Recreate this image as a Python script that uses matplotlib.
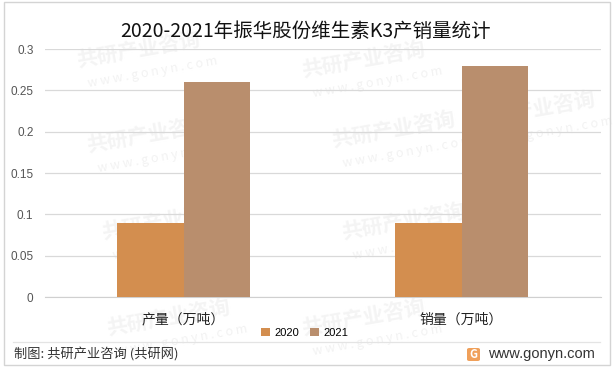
import numpy as np
import matplotlib
matplotlib.use('Agg')
import matplotlib.pyplot as plt
from matplotlib.patches import Rectangle, FancyBboxPatch

plt.rcParams['font.family'] = ['Noto Sans CJK SC', 'DejaVu Sans']

categories = ['产量（万吨）', '销量（万吨）']
values_2020 = [0.09, 0.09]
values_2021 = [0.26, 0.28]
yticks = [0, 0.05, 0.1, 0.15, 0.2, 0.25, 0.3]
yticklabels = ['0', '0.05', '0.1', '0.15', '0.2', '0.25', '0.3']
title = '2020-2021年振华股份维生素K3产销量统计'
footer = '制图: 共研产业咨询 (共研网)'
site = 'www.gonyn.com'
# watermark anchors, pixels from top left
wm_x = [75, 85, 100, 105, 300, 330, 340, 300, 470]
wm_y = [50, 135, 222, 318, 60, 130, 222, 318, 110]

W, H = 613, 370
fig = plt.figure(figsize=(W/100, H/100), dpi=100)
ax = fig.add_axes([44.5/W, 1-297/H, 556/W, 248/H], zorder=2)

# watermark under everything
for x, y in zip(wm_x, wm_y):
    fig.text(x/W, 1-y/H, '共研产业咨询', fontsize=15, fontweight='bold', color='#f4f4f4', rotation=10, ha='left', va='center', zorder=0)
    fig.text((x+12)/W, 1-(y+22)/H, 'w w w . g o n y n . c o m', fontsize=9, color='#f2f2f2', rotation=10, ha='left', va='center', zorder=0)

ax.patch.set_alpha(0)
pos = np.arange(len(categories))
w = 0.24
ax.bar(pos-w/2, values_2020, w, color='#d38e4f', label='2020', zorder=3)
ax.bar(pos+w/2, values_2021, w, color='#b98e6d', label='2021', zorder=3)

ax.set_xlim(-0.5, 1.5)
ax.set_ylim(0, 0.3)
ax.set_yticks(yticks)
ax.set_yticklabels(yticklabels, fontsize=8.5, color='#555555', family=['Liberation Sans', 'DejaVu Sans'])
ax.set_xticks(pos)
ax.set_xticklabels(categories, fontsize=10, color='#222222')
ax.tick_params(axis='both', length=0)
ax.tick_params(axis='y', pad=8)
ax.tick_params(axis='x', pad=11)
ax.grid(axis='y', color='#d9d9d9', lw=0.9, zorder=1)
ax.set_axisbelow(True)
for s in ['top', 'right', 'left']:
    ax.spines[s].set_visible(False)
ax.spines['bottom'].set_color('#d0d0d0')

fig.text(306/W, 1-31/H, title, fontsize=14, color='#111111', ha='center', va='center')

ax.legend(loc='center', bbox_to_anchor=(305/W, 1-333/H), bbox_transform=fig.transFigure, ncol=2, frameon=False,
          handlelength=0.8, handleheight=0.8, handletextpad=0.4, columnspacing=1.0,
          prop={'family': ['Liberation Sans', 'DejaVu Sans'], 'size': 8})

# outer frame and footer rule
fig.add_artist(Rectangle((3.5/W, 1-365/H), 606/W, 363/H, transform=fig.transFigure, fill=False, ec='#d4d4d4', lw=1))
fig.add_artist(plt.Line2D([13/W, 600/W], [1-342/H, 1-342/H], color='#e4e4e4', lw=0.9))
fig.text(14/W, 1-355/H, footer, fontsize=9.5, color='#333333', ha='left', va='center')
fig.text(488/W, 1-354/H, site, fontsize=10.5, color='#333333', ha='left', va='center', family=['Liberation Sans', 'DejaVu Sans'])

# logo
fig.add_artist(FancyBboxPatch((467/W, 1-361/H), 13/W, 13/H, boxstyle='round,pad=0,rounding_size=0.004', transform=fig.transFigure, fc='#f0a05a', ec='none'))
fig.text(473.5/W, 1-354.5/H, 'G', fontsize=8, fontweight='bold', color='white', ha='center', va='center')

fig.savefig('out.png', dpi=100)
